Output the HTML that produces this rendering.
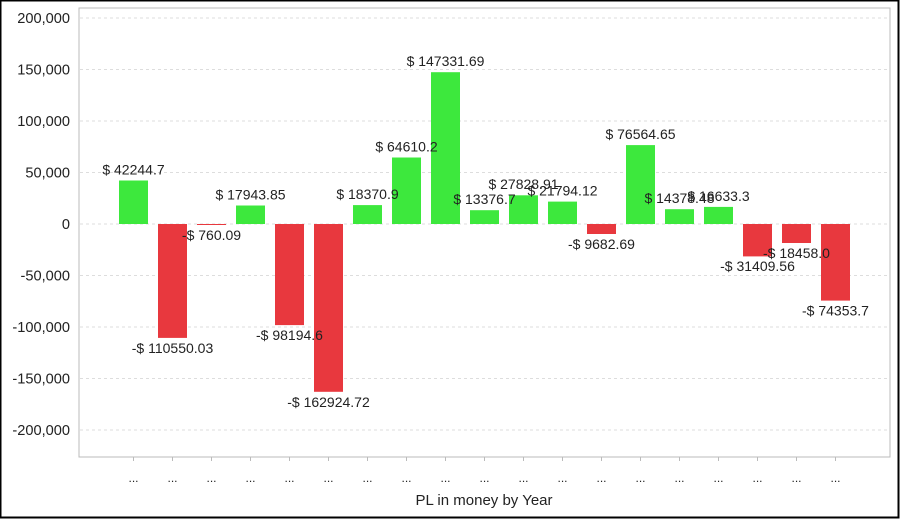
<!DOCTYPE html><html><head><style>body{margin:0;background:#fff}svg{display:block}text{font-family:"Liberation Sans",sans-serif;font-size:14px;fill:#222}</style></head><body>
<svg width="900" height="519" xmlns="http://www.w3.org/2000/svg">
<rect x="0.5" y="0.5" width="898" height="517" fill="#fff" stroke="#000" stroke-width="2"/>
<rect x="79" y="8" width="811" height="449" fill="#fff" stroke="#bbb"/>
<g stroke="#ddd" stroke-dasharray="3,3">
<line x1="80" x2="889" y1="18" y2="18"/><line x1="80" x2="889" y1="69.5" y2="69.5"/><line x1="80" x2="889" y1="121" y2="121"/><line x1="80" x2="889" y1="172.5" y2="172.5"/><line x1="80" x2="889" y1="224" y2="224"/><line x1="80" x2="889" y1="275.5" y2="275.5"/><line x1="80" x2="889" y1="327" y2="327"/><line x1="80" x2="889" y1="378.5" y2="378.5"/><line x1="80" x2="889" y1="430" y2="430"/>
</g>
<g text-anchor="end" style="font-size:14.6px">
<text x="70" y="23" style="font-size:14.6px">200,000</text><text x="70" y="74.5" style="font-size:14.6px">150,000</text><text x="70" y="126" style="font-size:14.6px">100,000</text><text x="70" y="177.5" style="font-size:14.6px">50,000</text><text x="70" y="229" style="font-size:14.6px">0</text><text x="70" y="280.5" style="font-size:14.6px">-50,000</text><text x="70" y="332" style="font-size:14.6px">-100,000</text><text x="70" y="383.5" style="font-size:14.6px">-150,000</text><text x="70" y="435" style="font-size:14.6px">-200,000</text>
</g>
<g fill="#3de83d">
<rect x="119" y="180.5" width="29" height="43.5"/>
<rect x="236" y="205.5" width="29" height="18.5"/>
<rect x="353" y="205.1" width="29" height="18.9"/>
<rect x="392" y="157.5" width="29" height="66.5"/>
<rect x="431" y="72.2" width="29" height="151.8"/>
<rect x="470" y="210.2" width="29" height="13.8"/>
<rect x="509" y="195.3" width="29" height="28.7"/>
<rect x="548" y="201.6" width="29" height="22.4"/>
<rect x="626" y="145.1" width="29" height="78.9"/>
<rect x="665" y="209.2" width="29" height="14.8"/>
<rect x="704" y="206.9" width="29" height="17.1"/>
</g>
<g fill="#e8383e">
<rect x="158" y="224" width="29" height="113.9"/>
<rect x="197" y="224" width="29" height="1"/>
<rect x="275" y="224" width="29" height="101.1"/>
<rect x="314" y="224" width="29" height="167.8"/>
<rect x="587" y="224" width="29" height="10"/>
<rect x="743" y="224" width="29" height="32.4"/>
<rect x="782" y="224" width="29" height="19"/>
<rect x="821" y="224" width="29" height="76.6"/>
</g>
<g text-anchor="middle">
<text x="133.5" y="174.5">$ 42244.7</text>
<text x="172.5" y="353">-$ 110550.03</text>
<text x="211.5" y="240">-$ 760.09</text>
<text x="250.5" y="199.5">$ 17943.85</text>
<text x="289.5" y="340">-$ 98194.6</text>
<text x="328.5" y="407">-$ 162924.72</text>
<text x="367.5" y="199">$ 18370.9</text>
<text x="406.5" y="151.5">$ 64610.2</text>
<text x="445.5" y="66">$ 147331.69</text>
<text x="484.5" y="204">$ 13376.7</text>
<text x="523.5" y="189">$ 27828.91</text>
<text x="562.5" y="195.5">$ 21794.12</text>
<text x="601.5" y="249">-$ 9682.69</text>
<text x="640.5" y="139">$ 76564.65</text>
<text x="679.5" y="203">$ 14378.48</text>
<text x="718.5" y="201">$ 16633.3</text>
<text x="757.5" y="271">-$ 31409.56</text>
<text x="796.5" y="258">-$ 18458.0</text>
<text x="835.5" y="315.5">-$ 74353.7</text>
</g>
<g stroke="#bbb">
<line x1="133.5" x2="133.5" y1="457" y2="461"/><line x1="172.5" x2="172.5" y1="457" y2="461"/><line x1="211.5" x2="211.5" y1="457" y2="461"/><line x1="250.5" x2="250.5" y1="457" y2="461"/><line x1="289.5" x2="289.5" y1="457" y2="461"/><line x1="328.5" x2="328.5" y1="457" y2="461"/><line x1="367.5" x2="367.5" y1="457" y2="461"/><line x1="406.5" x2="406.5" y1="457" y2="461"/><line x1="445.5" x2="445.5" y1="457" y2="461"/><line x1="484.5" x2="484.5" y1="457" y2="461"/><line x1="523.5" x2="523.5" y1="457" y2="461"/><line x1="562.5" x2="562.5" y1="457" y2="461"/><line x1="601.5" x2="601.5" y1="457" y2="461"/><line x1="640.5" x2="640.5" y1="457" y2="461"/><line x1="679.5" x2="679.5" y1="457" y2="461"/><line x1="718.5" x2="718.5" y1="457" y2="461"/><line x1="757.5" x2="757.5" y1="457" y2="461"/><line x1="796.5" x2="796.5" y1="457" y2="461"/><line x1="835.5" x2="835.5" y1="457" y2="461"/>
</g>
<g text-anchor="middle">
<text x="133.5" y="482" style="font-size:12px">...</text><text x="172.5" y="482" style="font-size:12px">...</text><text x="211.5" y="482" style="font-size:12px">...</text><text x="250.5" y="482" style="font-size:12px">...</text><text x="289.5" y="482" style="font-size:12px">...</text><text x="328.5" y="482" style="font-size:12px">...</text><text x="367.5" y="482" style="font-size:12px">...</text><text x="406.5" y="482" style="font-size:12px">...</text><text x="445.5" y="482" style="font-size:12px">...</text><text x="484.5" y="482" style="font-size:12px">...</text><text x="523.5" y="482" style="font-size:12px">...</text><text x="562.5" y="482" style="font-size:12px">...</text><text x="601.5" y="482" style="font-size:12px">...</text><text x="640.5" y="482" style="font-size:12px">...</text><text x="679.5" y="482" style="font-size:12px">...</text><text x="718.5" y="482" style="font-size:12px">...</text><text x="757.5" y="482" style="font-size:12px">...</text><text x="796.5" y="482" style="font-size:12px">...</text><text x="835.5" y="482" style="font-size:12px">...</text>
</g>
<text x="484" y="505" text-anchor="middle" style="font-size:15px">PL in money by Year</text>
</svg></body></html>
